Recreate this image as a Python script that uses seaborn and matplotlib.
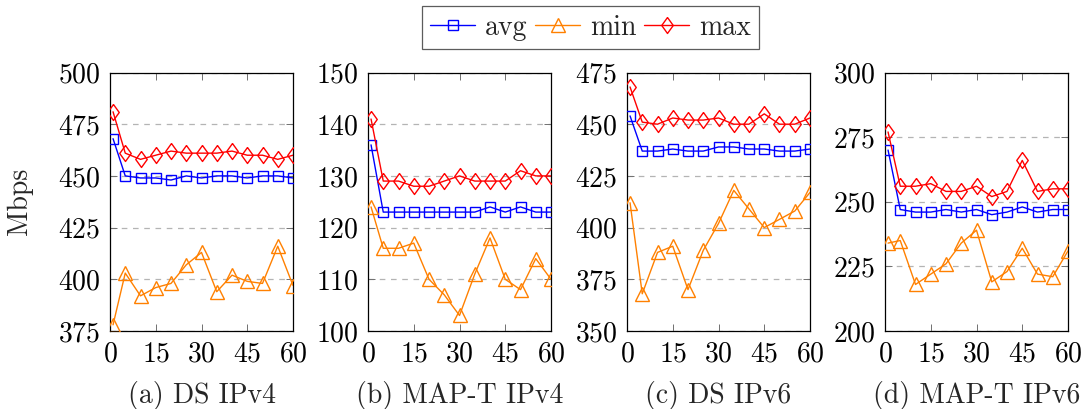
import matplotlib
matplotlib.use("Agg")
import matplotlib.pyplot as plt
import seaborn as sns
import numpy as np

# Measurement time (s)
t = [1, 5, 10, 15, 20, 25, 30, 35, 40, 45, 50, 55, 60]

panel_titles = ["(a) DS IPv4", "(b) MAP-T IPv4", "(c) DS IPv6", "(d) MAP-T IPv6"]

ds4_avg = [468, 450, 449, 449, 448, 450, 449, 450, 450, 449, 450, 450, 449]
ds4_min = [378, 403, 392, 396, 398, 407, 413, 394, 402, 399, 398, 416, 397]
ds4_max = [481, 461, 458, 460, 462, 461, 461, 461, 462, 460, 460, 458, 460]

mt4_avg = [136, 123, 123, 123, 123, 123, 123, 123, 124, 123, 124, 123, 123]
mt4_min = [124, 116, 116, 117, 110, 107, 103, 111, 118, 110, 108, 114, 110]
mt4_max = [141, 129, 129, 128, 128, 129, 130, 129, 129, 129, 131, 130, 130]

ds6_avg = [454, 437, 437, 438, 437, 437, 439, 439, 438, 438, 437, 437, 438]
ds6_min = [412, 368, 388, 391, 370, 389, 402, 418, 409, 400, 404, 408, 417]
ds6_max = [468, 451, 450, 453, 452, 452, 453, 450, 450, 455, 450, 450, 453]

mt6_avg = [270, 247, 246, 246, 247, 246, 247, 245, 246, 248, 246, 247, 247]
mt6_min = [234, 235, 218, 222, 226, 234, 239, 219, 223, 232, 222, 221, 231]
mt6_max = [277, 256, 256, 257, 254, 254, 256, 252, 254, 266, 254, 255, 255]

y_ranges = [(375, 500), (100, 150), (350, 475), (200, 300)]
y_steps = [25, 10, 25, 25]

panels = [
    (ds4_avg, ds4_min, ds4_max),
    (mt4_avg, mt4_min, mt4_max),
    (ds6_avg, ds6_min, ds6_max),
    (mt6_avg, mt6_min, mt6_max),
]

sns.set_theme(style="ticks")
plt.rcParams["font.family"] = ["serif"]
plt.rcParams["font.serif"] = ["cmr10", "DejaVu Serif"]
plt.rcParams["mathtext.fontset"] = "cm"
plt.rcParams["axes.formatter.use_mathtext"] = True

W, H = 1092, 409
fig = plt.figure(figsize=(W / 100, H / 100), dpi=100)

lefts = [110, 368, 627, 885]
ax_w, ax_top, ax_bot = 183, 72.5, 331

diamond = [(0, 1), (0.72, 0), (0, -1), (-0.72, 0), (0, 1)]
styles = {
    "avg": dict(color="#0000FF", marker="s", ms=7.5),
    "min": dict(color="#FF8000", marker="^", ms=10),
    "max": dict(color="#FF0000", marker=diamond, ms=11.5),
}
fs = 20

axes = []
for i, (vals, title) in enumerate(zip(panels, panel_titles)):
    ax = fig.add_axes([lefts[i] / W, (H - ax_bot) / H, ax_w / W, (ax_bot - ax_top) / H])
    axes.append(ax)
    for name, series in zip(["avg", "min", "max"], vals):
        st = styles[name]
        sns.lineplot(x=t, y=series, ax=ax, color=st["color"], lw=1.0,
                     marker=st["marker"], ms=st["ms"], markerfacecolor="none",
                     markeredgecolor=st["color"], markeredgewidth=1.0,
                     label=name, legend=False, zorder=3)
    lo, hi = y_ranges[i]
    ax.set_xlim(0, 60)
    ax.set_ylim(lo, hi)
    ax.set_xticks([0, 15, 30, 45, 60])
    ax.set_yticks(np.arange(lo, hi + 1, y_steps[i]))
    ax.grid(axis="y", color="#b4b4b4", linestyle=(0, (4.5, 4.5)), linewidth=0.9)
    ax.grid(axis="x", visible=False)
    ax.tick_params(direction="in", length=5, width=0.7, color="#707070",
                   labelsize=fs, labelcolor="black", pad=7,
                   top=True, right=True)
    for sp in ax.spines.values():
        sp.set_color("black")
        sp.set_linewidth(0.9)
    ax.set_xlabel("")
    ax.set_ylabel("")
    cx = (lefts[i] + ax_w / 2) / W
    fig.text(cx, (H - 402.5) / H, title, ha="center", va="baseline", fontsize=fs)

fig.text(20 / W, (H - (ax_top + ax_bot) / 2) / H,
         "Mbps", rotation=90, ha="center", va="center", fontsize=fs)

handles = axes[0].get_lines()[:3]
leg = fig.legend(handles, ["avg", "min", "max"], loc="upper center",
                 bbox_to_anchor=(590.5 / W, 1 - 6 / H), ncol=3, fontsize=fs,
                 frameon=True, fancybox=False, edgecolor="#333333",
                 handlelength=1.6, handletextpad=0.35, columnspacing=0.3,
                 borderpad=0.3, borderaxespad=0)
leg.get_frame().set_linewidth(0.9)

fig.savefig("out.png", dpi=100)
